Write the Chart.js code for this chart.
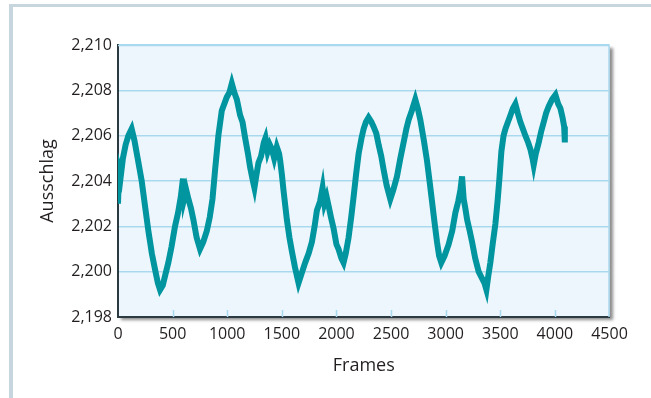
<!DOCTYPE html>
<html>
<head>
<meta charset="utf-8">
<script src="https://cdn.jsdelivr.net/npm/chart.js@4"></script>
<style>
  html, body { margin: 0; padding: 0; background: #fff; }
  #wrap { position: relative; width: 651px; height: 398px; overflow: hidden; }
  #frame { position: absolute; left: 9px; top: 4px; width: 700px; height: 460px;
           border-top: 3px solid #c7d5de; border-left: 4px solid #c7d5de; }
  canvas { position: absolute; left: 0; top: 0; }
</style>
</head>
<body>
<div id="wrap">
  <div id="frame"></div>
  <canvas id="chart" width="651" height="398"></canvas>
</div>
<script>
// data
const frames = [0, 10, 25, 45, 70, 95, 125, 150, 180, 217, 250, 278, 310, 339, 365, 385, 410, 435, 461, 490,
  522, 550, 575, 595, 605, 625, 645, 668, 690, 720, 751, 780, 813, 840, 865, 889, 919, 950, 996, 1020,
  1042, 1065, 1088, 1118, 1140, 1164, 1190, 1210, 1235, 1249, 1265, 1286, 1310, 1335, 1350, 1370, 1390, 1409, 1430, 1454,
  1475, 1485, 1500, 1515, 1546, 1570, 1592, 1620, 1653, 1680, 1714, 1745, 1775, 1800, 1821, 1850, 1873, 1890, 1910, 1928,
  1950, 1974, 2000, 2019, 2045, 2065, 2085, 2111, 2135, 2157, 2180, 2203, 2230, 2249, 2270, 2294, 2320, 2340, 2365, 2386,
  2410, 2432, 2460, 2493, 2520, 2554, 2585, 2615, 2640, 2661, 2690, 2722, 2745, 2768, 2800, 2829, 2855, 2875, 2900, 2921,
  2940, 2960, 2990, 3027, 3060, 3089, 3115, 3135, 3150, 3165, 3180, 3196, 3220, 3242, 3270, 3302, 3333, 3355, 3373, 3390,
  3409, 3430, 3455, 3475, 3492, 3510, 3530, 3547, 3570, 3593, 3615, 3638, 3660, 3684, 3707, 3730, 3755, 3776, 3795, 3806,
  3825, 3852, 3875, 3898, 3920, 3944, 3975, 4005, 4030, 4051, 4070, 4085, 4091];
const ausschlag = [2.2030, 2.2045, 2.2042, 2.2050, 2.2056, 2.2060, 2.2063, 2.2058, 2.2050, 2.2040, 2.2028, 2.2018, 2.2008, 2.2001, 2.1995, 2.1992, 2.1994, 2.1999, 2.2004, 2.2011,
  2.2020, 2.2026, 2.2033, 2.2041, 2.2032, 2.2036, 2.2032, 2.2028, 2.2023, 2.2015, 2.2010, 2.2013, 2.2018, 2.2024, 2.2032, 2.2045, 2.2060, 2.2071, 2.2077, 2.2079,
  2.2083, 2.2079, 2.2076, 2.2069, 2.2066, 2.2059, 2.2052, 2.2046, 2.2040, 2.2037, 2.2042, 2.2048, 2.2051, 2.2057, 2.2059, 2.2053, 2.2056, 2.2054, 2.2050, 2.2055,
  2.2052, 2.2049, 2.2043, 2.2036, 2.2023, 2.2015, 2.2009, 2.2002, 2.1995, 2.1999, 2.2004, 2.2008, 2.2013, 2.2020, 2.2027, 2.2031, 2.2037, 2.2030, 2.2033, 2.2029,
  2.2024, 2.2019, 2.2012, 2.2010, 2.2006, 2.2004, 2.2008, 2.2015, 2.2024, 2.2033, 2.2043, 2.2052, 2.2059, 2.2063, 2.2066, 2.2068, 2.2066, 2.2064, 2.2061, 2.2056,
  2.2051, 2.2045, 2.2038, 2.2032, 2.2036, 2.2042, 2.2050, 2.2057, 2.2063, 2.2067, 2.2071, 2.2076, 2.2072, 2.2067, 2.2058, 2.2049, 2.2039, 2.2031, 2.2021, 2.2013,
  2.2007, 2.2004, 2.2007, 2.2012, 2.2018, 2.2026, 2.2031, 2.2036, 2.2042, 2.2032, 2.2028, 2.2023, 2.2018, 2.2013, 2.2006, 2.2000, 2.1997, 2.1995, 2.1992, 2.1998,
  2.2004, 2.2012, 2.2021, 2.2031, 2.2041, 2.2053, 2.2060, 2.2063, 2.2066, 2.2069, 2.2072, 2.2074, 2.2070, 2.2066, 2.2063, 2.2060, 2.2057, 2.2054, 2.2050, 2.2047,
  2.2052, 2.2057, 2.2062, 2.2066, 2.2070, 2.2073, 2.2076, 2.2078, 2.2074, 2.2072, 2.2068, 2.2064, 2.2057];
const yTickLabels = ['2,198', '2,200', '2,202', '2,204', '2,206', '2,208', '2,210'];
const xTickLabels = ['0', '500', '1000', '1500', '2000', '2500', '3000', '3500', '4000', '4500'];

const points = frames.map((f, i) => ({ x: f, y: ausschlag[i] }));

// plot box: shaded background, light top/right edge, short inner x ticks
const plotBox = {
  id: 'plotBox',
  beforeDraw(chart) {
    const { ctx, chartArea: a } = chart;
    ctx.save();
    ctx.shadowColor = 'rgba(0,0,0,0.45)';
    ctx.shadowBlur = 3;
    ctx.shadowOffsetX = 3;
    ctx.shadowOffsetY = 3;
    ctx.fillStyle = '#eef6fd';
    ctx.fillRect(a.left, a.top, a.right - a.left, a.bottom - a.top);
    ctx.restore();
  },
  beforeDatasetsDraw(chart) {
    const { ctx, chartArea: a, scales } = chart;
    ctx.save();
    ctx.strokeStyle = '#a9d9ee';
    ctx.lineWidth = 1.5;
    ctx.beginPath();
    ctx.moveTo(a.left, a.top + 0.5);
    ctx.lineTo(a.right - 0.5, a.top + 0.5);
    ctx.lineTo(a.right - 0.5, a.bottom);
    ctx.stroke();
    ctx.beginPath();
    scales.x.ticks.forEach(t => {
      if (t.value <= 0 || t.value >= 4500) return;
      const x = Math.round(scales.x.getPixelForValue(t.value)) + 0.5;
      ctx.moveTo(x, a.bottom);
      ctx.lineTo(x, a.bottom - 7);
    });
    ctx.stroke();
    ctx.restore();
  }
};

const font = { family: '"Open Sans", sans-serif', size: 16 };

new Chart(document.getElementById('chart').getContext('2d'), {
  type: 'line',
  data: {
    datasets: [{
      data: points,
      borderColor: '#00959f',
      borderWidth: 6,
      pointRadius: 0,
      tension: 0,
      fill: false
    }]
  },
  options: {
    responsive: false,
    animation: false,
    events: [],
    layout: { padding: { top: 45, right: 41.5, bottom: 0, left: 0 } },
    plugins: { legend: { display: false }, tooltip: { enabled: false } },
    scales: {
      x: {
        type: 'linear',
        min: 0,
        max: 4500,
        afterFit: s => { s.height = 81; },
        ticks: {
          stepSize: 500,
          padding: 8,
          color: '#231f20',
          font: font,
          maxRotation: 0,
          callback: (v, i) => xTickLabels[i]
        },
        grid: { drawOnChartArea: false, drawTicks: false },
        border: { color: '#2b3940', width: 2 },
        title: {
          display: true,
          text: 'Frames',
          color: '#231f20',
          font: { family: '"Open Sans", sans-serif', size: 18 },
          padding: { top: 0, bottom: 21 }
        }
      },
      y: {
        min: 2.198,
        max: 2.210,
        afterFit: s => { s.width = 118; },
        ticks: {
          stepSize: 0.002,
          padding: 6,
          color: '#231f20',
          font: font,
          callback: (v, i) => yTickLabels[i]
        },
        grid: { color: '#a9d9ee', lineWidth: 1.5, drawTicks: false },
        border: { color: '#2b3940', width: 2 },
        title: {
          display: true,
          text: 'Ausschlag',
          color: '#231f20',
          font: { family: '"Open Sans", sans-serif', size: 18 },
          padding: { top: 37, bottom: 0 }
        }
      }
    }
  },
  plugins: [plotBox]
});
</script>
</body>
</html>
